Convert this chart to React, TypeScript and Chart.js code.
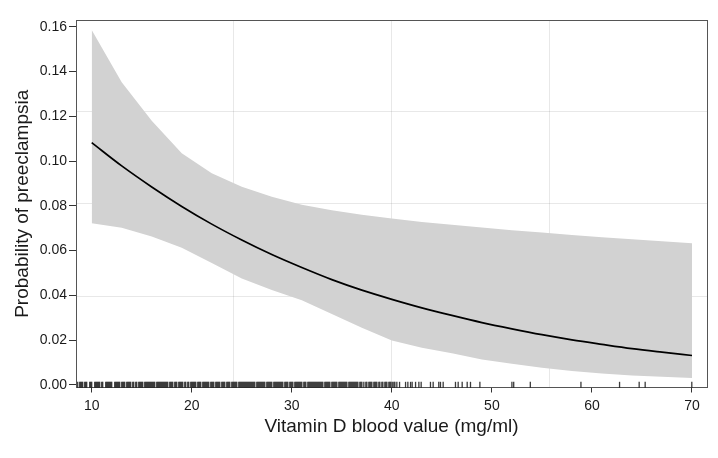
import React, { useEffect, useRef } from "react";
import { Chart, registerables } from "chart.js";

Chart.register(...registerables);

const xTicks = [10, 20, 30, 40, 50, 60, 70];
const yTicks = [0, 0.02, 0.04, 0.06, 0.08, 0.1, 0.12, 0.14, 0.16];
const xGridLines = [24.2, 40, 55.8];
const yGridLines = [0.0395, 0.0808, 0.122];

const vitaminD = [10, 13, 16, 19, 22, 25, 28, 31, 34, 37, 40, 43, 46, 49, 52, 55, 58, 61, 64, 67, 70];
const probability = [0.1082, 0.0978, 0.0884, 0.0797, 0.0718, 0.0647, 0.0582, 0.0524, 0.047, 0.0423, 0.0382, 0.0344, 0.031, 0.0278, 0.025, 0.0224, 0.0201, 0.0181, 0.0162, 0.0146, 0.0131];
const upperCI = [0.1585, 0.1352, 0.118, 0.1035, 0.0945, 0.0885, 0.084, 0.0805, 0.078, 0.076, 0.0743, 0.0728, 0.0715, 0.0703, 0.0691, 0.068, 0.0669, 0.0659, 0.065, 0.0641, 0.0633];
const lowerCI = [0.0722, 0.0702, 0.0663, 0.0612, 0.0544, 0.0475, 0.0424, 0.0378, 0.0316, 0.0255, 0.0198, 0.0166, 0.0141, 0.0113, 0.0094, 0.0076, 0.0062, 0.0051, 0.0042, 0.0036, 0.003];

const rugValues = [
  8.6, 8.8, 8.9, 9.0, 9.1, 9.3, 9.4, 9.5, 9.8, 9.9, 10.0, 10.3, 10.4, 10.5, 10.6, 10.7, 10.8, 11.0, 11.1,
  11.4, 11.5, 11.6, 11.7, 11.8, 11.9, 12.0, 12.3, 12.4, 12.5, 12.6, 12.7, 12.8, 13.0, 13.1, 13.2, 13.3,
  13.5, 13.6, 13.7, 13.8, 13.9, 14.1, 14.2, 14.4, 14.5, 14.7, 14.8, 14.9, 15.0, 15.1, 15.3, 15.4, 15.5,
  15.6, 15.7, 15.8, 15.9, 16.0, 16.1, 16.2, 16.3, 16.5, 16.6, 16.7, 16.8, 16.9, 17.0, 17.1, 17.2, 17.3,
  17.4, 17.5, 17.6, 17.8, 17.9, 18.0, 18.1, 18.3, 18.4, 18.5, 18.7, 18.8, 18.9, 19.0, 19.1, 19.3, 19.4,
  19.6, 19.7, 19.9, 20.0, 20.1, 20.2, 20.3, 20.4, 20.6, 20.7, 20.8, 20.9, 21.1, 21.2, 21.3, 21.4, 21.5,
  21.6, 21.7, 21.9, 22.0, 22.1, 22.2, 22.4, 22.5, 22.6, 22.7, 22.8, 23.0, 23.1, 23.2, 23.3, 23.5, 23.6,
  23.7, 23.8, 24.0, 24.1, 24.2, 24.3, 24.4, 24.5, 24.7, 24.8, 24.9, 25.0, 25.1, 25.2, 25.3, 25.4, 25.5,
  25.6, 25.7, 25.8, 25.9, 26.0, 26.1, 26.2, 26.3, 26.5, 26.6, 26.7, 26.8, 26.9, 27.0, 27.1, 27.2, 27.3,
  27.5, 27.6, 27.7, 27.8, 27.9, 28.0, 28.2, 28.3, 28.4, 28.5, 28.6, 28.7, 28.8, 28.9, 29.0, 29.1, 29.3,
  29.4, 29.5, 29.6, 29.8, 29.9, 30.0, 30.1, 30.3, 30.4, 30.5, 30.6, 30.7, 30.8, 30.9, 31.0, 31.2, 31.3,
  31.4, 31.6, 31.7, 31.8, 31.9, 32.0, 32.1, 32.2, 32.3, 32.4, 32.5, 32.6, 32.7, 32.8, 32.9, 33.0, 33.1,
  33.3, 33.4, 33.5, 33.6, 33.7, 33.8, 34.0, 34.1, 34.2, 34.3, 34.4, 34.5, 34.7, 34.8, 34.9, 35.0, 35.1,
  35.2, 35.3, 35.4, 35.5, 35.7, 35.8, 35.9, 36.0, 36.1, 36.2, 36.3, 36.4, 36.5, 36.6, 36.8, 36.9, 37.0,
  37.2, 37.4, 37.5, 37.7, 37.8, 37.9, 38.0, 38.2, 38.3, 38.4, 38.5, 38.7, 38.8, 39.0, 39.1, 39.3, 39.4,
  39.5, 39.7, 39.8, 39.9, 40.04, 40.2, 40.3, 40.5, 40.77, 41.37, 41.6, 41.87, 42.03, 42.37, 42.7, 42.93,
  43.86, 44.13, 44.69, 44.86, 45.13, 46.36, 46.63, 47.03, 47.53, 47.86, 48.8, 52.0, 52.18, 53.84, 58.9,
  62.76, 64.72, 65.32, 69.98,
];

const FONT = "'Liberation Sans', Arial, Helvetica, sans-serif";
const AXIS_COLOR = "#555555";
const GRID_COLOR = "rgba(0,0,0,0.09)";

export default function App() {
  const canvasRef = useRef<HTMLCanvasElement | null>(null);

  useEffect(() => {
    if (!canvasRef.current) return;
    const curve = vitaminD.map((x, i) => ({ x, y: probability[i] }));
    const upper = vitaminD.map((x, i) => ({ x, y: upperCI[i] }));
    const lower = vitaminD.map((x, i) => ({ x, y: lowerCI[i] }));
    const rug = rugValues.map((x) => ({ x, y: 0 }));

    const chart = new Chart(canvasRef.current, {
      type: "scatter",
      data: {
        datasets: [
          {
            type: "line",
            label: "upper",
            data: upper,
            borderWidth: 0,
            borderColor: "rgba(0,0,0,0)",
            backgroundColor: "#d2d2d2",
            pointRadius: 0,
            fill: "+1",
            tension: 0,
            order: 3,
          },
          {
            type: "line",
            label: "lower",
            data: lower,
            borderWidth: 0,
            borderColor: "rgba(0,0,0,0)",
            backgroundColor: "#d2d2d2",
            pointRadius: 0,
            fill: false,
            tension: 0,
            order: 3,
          },
          {
            type: "line",
            label: "probability",
            data: curve,
            borderColor: "#000000",
            borderWidth: 1.7,
            pointRadius: 0,
            fill: false,
            cubicInterpolationMode: "monotone",
            order: 2,
          },
          {
            type: "scatter",
            label: "rug",
            data: rug,
            pointStyle: "line",
            rotation: 90,
            radius: 3,
            borderWidth: 1.3,
            borderColor: "rgba(25,25,25,0.85)",
            backgroundColor: "rgba(25,25,25,0.85)",
            clip: false,
            order: 1,
          } as any,
        ],
      },
      options: {
        animation: false,
        responsive: true,
        maintainAspectRatio: false,
        layout: { padding: { left: 0, right: 11, top: 20, bottom: 0 } },
        plugins: { legend: { display: false }, tooltip: { enabled: false } },
        scales: {
          x: {
            type: "linear",
            position: "bottom",
            min: 8.43,
            max: 71.5,
            afterBuildTicks: (s: any) => {
              s.ticks = xTicks.map((v) => ({ value: v }));
            },
            afterFit: (s: any) => {
              s.height = 70.5;
            },
            grid: { drawOnChartArea: false, drawTicks: true, tickLength: 5, color: "#333333" },
            border: { display: true, color: AXIS_COLOR, width: 1 },
            ticks: { color: "#1a1a1a", font: { family: FONT, size: 14 }, padding: 5, maxRotation: 0 },
            title: {
              display: true,
              text: "Vitamin D blood value (mg/ml)",
              color: "#1a1a1a",
              font: { family: FONT, size: 19 },
              padding: { top: 0, bottom: 20 },
            },
          },
          x2: {
            type: "linear",
            position: "top",
            min: 8.43,
            max: 71.5,
            z: 1,
            afterBuildTicks: (s: any) => {
              s.ticks = xGridLines.map((v) => ({ value: v }));
            },
            afterFit: (s: any) => {
              s.height = 0;
            },
            grid: { drawOnChartArea: true, drawTicks: false, color: GRID_COLOR, lineWidth: 1 },
            border: { display: true, color: AXIS_COLOR, width: 1 },
            ticks: { display: false },
          },
          y: {
            type: "linear",
            position: "left",
            min: -0.0012,
            max: 0.163,
            afterBuildTicks: (s: any) => {
              s.ticks = yTicks.map((v) => ({ value: v }));
            },
            afterFit: (s: any) => {
              s.width = 76;
            },
            grid: { drawOnChartArea: false, drawTicks: true, tickLength: 7, color: "#333333" },
            border: { display: true, color: AXIS_COLOR, width: 1 },
            ticks: {
              color: "#1a1a1a",
              font: { family: FONT, size: 14 },
              padding: 2,
              callback: (v: any) => Number(v).toFixed(2),
            },
            title: {
              display: true,
              text: "Probability of preeclampsia",
              color: "#1a1a1a",
              font: { family: FONT, size: 19 },
              padding: { top: 11, bottom: 0 },
            },
          },
          y2: {
            type: "linear",
            position: "right",
            min: -0.0012,
            max: 0.163,
            z: 1,
            afterBuildTicks: (s: any) => {
              s.ticks = yGridLines.map((v) => ({ value: v }));
            },
            afterFit: (s: any) => {
              s.width = 0;
            },
            grid: { drawOnChartArea: true, drawTicks: false, color: GRID_COLOR, lineWidth: 1 },
            border: { display: true, color: AXIS_COLOR, width: 1 },
            ticks: { display: false },
          },
        },
      } as any,
    });
    return () => chart.destroy();
  }, []);

  return (
    <div style={{ position: "fixed", left: 0, top: 0, width: 718, height: 458, background: "#ffffff" }}>
      <canvas ref={canvasRef} />
    </div>
  );
}
